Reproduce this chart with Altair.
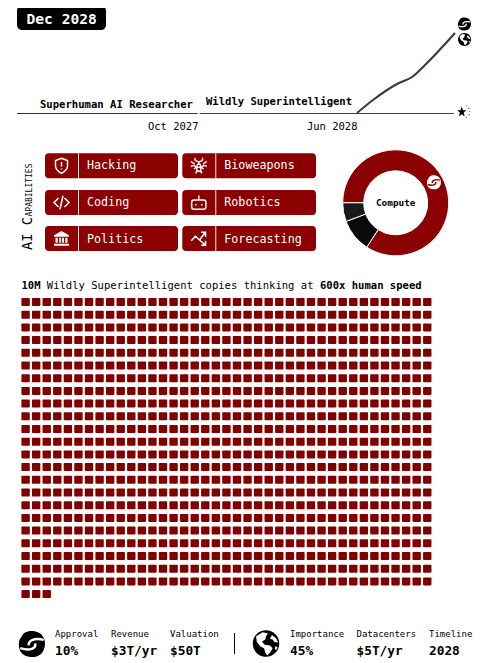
import math
import altair as alt
import pandas as pd

FONT = "DejaVu Sans Mono"
RED = "#8b0000"
WAFFLE_RED = "#800000"

# ---- data ----
date_label = "Dec 2028"
line_x = [357, 373, 397, 412, 427, 455]
line_y = [113, 100, 84, 77, 63, 33]
capabilities = ["Hacking", "Coding", "Politics", "Bioweapons", "Robotics", "Forecasting"]
compute_shares = [84.2, 10.1, 5.7]
compute_colors = [RED, "#0a0a0a", "#1a1a1a"]
copies_squares = 900
waffle_cols = 39
left_stats = [("Approval", "10%", 55), ("Revenue", "$3T/yr", 111), ("Valuation", "$50T", 170)]
right_stats = [("Importance", "45%", 290), ("Datacenters", "$5T/yr", 356.5), ("Timeline", "2028", 429)]

# ---- icon outlines, in a -1..1 box ----
SHIELD = "M0,-1 L0.8,-0.7 L0.8,0 C0.8,0.5 0.4,0.8 0,1 C-0.4,0.8 -0.8,0.5 -0.8,0 L-0.8,-0.7 Z M0,-0.5 L0,0.1 M0,0.36 L0,0.5"
CODE = "M-0.4,-0.6 L-1,0 L-0.4,0.6 M0.4,-0.6 L1,0 L0.4,0.6 M0.2,-0.9 L-0.2,0.9"
BANK = ("M0,-1 L1,-0.45 L1,-0.25 L-1,-0.25 L-1,-0.45 Z M-0.8,-0.1 L-0.5,-0.1 L-0.5,0.55 L-0.8,0.55 Z "
        "M-0.3,-0.1 L-0.05,-0.1 L-0.05,0.55 L-0.3,0.55 Z M0.08,-0.1 L0.33,-0.1 L0.33,0.55 L0.08,0.55 Z "
        "M0.5,-0.1 L0.8,-0.1 L0.8,0.55 L0.5,0.55 Z M-1,0.7 L1,0.7 L1,0.95 L-1,0.95 Z")
BIO = ("M-0.45,-1 C-0.7,-0.35 0.7,-0.35 0.45,-1 M-1,0.1 C-0.45,-0.3 0.0,0.4 -0.4,0.95 "
       "M1,0.1 C0.45,-0.3 0.0,0.4 0.4,0.95 M0,-0.45 L0,-0.1 M-0.2,0.1 L-0.6,0.4 M0.2,0.1 L0.6,0.4 "
       "M-1,-0.55 L-0.5,-0.2 M1,-0.55 L0.5,-0.2 M-0.3,0.8 C-0.1,0.6 0.1,0.6 0.3,0.8 "
       "M-0.22,0 A0.22,0.22 0 1,0 0.22,0 A0.22,0.22 0 1,0 -0.22,0")
ROBOT = ("M-0.65,-0.35 L0.65,-0.35 Q0.95,-0.35 0.95,-0.05 L0.95,0.6 Q0.95,0.9 0.65,0.9 L-0.65,0.9 "
         "Q-0.95,0.9 -0.95,0.6 L-0.95,-0.05 Q-0.95,-0.35 -0.65,-0.35 Z M0,-0.4 L0,-0.95 "
         "M-0.4,0.2 L-0.4,0.4 M0.4,0.2 L0.4,0.4")
ARROWS = ("M-1,0.3 L-0.45,-0.3 L0.1,0.2 L0.85,-0.8 M0.3,-0.85 L0.9,-0.85 L0.9,-0.25 "
          "M0.1,0.2 L0.85,0.85 M0.3,0.9 L0.9,0.9 L0.9,0.3")
DISC = "M-1,0 A1,1 0 1,1 1,0 A1,1 0 1,1 -1,0 Z"
BLOB = ("M-0.15,-1 C0.25,-1.05 0.75,-0.85 0.85,-0.55 C1.05,-0.3 1.05,0.25 0.85,0.55 C0.7,0.85 0.3,1.05 -0.1,1 "
        "C-0.5,1 -0.85,0.75 -0.95,0.45 C-1.05,0.1 -1.05,-0.3 -0.8,-0.55 C-0.7,-0.85 -0.45,-0.95 -0.15,-1 Z")
SWIRL = "M-0.25,0.1 C-0.3,-0.3 0.2,-0.48 0.9,-0.32 M0.25,-0.05 C0.32,0.35 -0.15,0.55 -0.9,0.32"
LAND = ("M-0.75,-0.55 L-0.25,-0.85 L0.15,-0.75 L0.0,-0.55 L-0.05,-0.3 L-0.3,-0.15 L-0.1,0.1 L0.3,0.15 L0.5,0.35 "
        "L0.3,0.7 L0.1,0.9 L-0.05,0.7 L-0.15,0.35 L-0.45,0.2 L-0.7,-0.15 Z "
        "M0.45,-0.65 L0.75,-0.4 L0.92,-0.1 L0.65,-0.1 L0.5,-0.3 L0.3,-0.35 Z M0.75,0.2 L0.88,0.3 L0.75,0.5 L0.65,0.35 Z")
STAR = ("M-0.3,-0.95 L-0.08,-0.3 L0.5,-0.3 L0.03,0.1 L0.22,0.8 L-0.3,0.38 L-0.82,0.8 L-0.63,0.1 L-1.1,-0.3 L-0.52,-0.3 Z")
DOTS = ("M0.4,-1.15 h0.16 v0.16 h-0.16 Z M0.85,-0.7 h0.16 v0.16 h-0.16 Z M1.0,-0.15 h0.16 v0.16 h-0.16 Z "
        "M0.9,0.4 h0.16 v0.16 h-0.16 Z M0.45,0.9 h0.16 v0.16 h-0.16 Z")

# ---- shared page frame: both scales read in page pixels ----
X = alt.Scale(domain=[8, 473], range=[0, 465], nice=False, zero=False)
Y = alt.Scale(domain=[8, 663], range=[0, 655], nice=False, zero=False)


def xq(f="x"):
    return alt.X(f, type="quantitative", scale=X, axis=None)


def yq(f="y"):
    return alt.Y(f, type="quantitative", scale=Y, axis=None)


def texts(rows, size, weight="normal", align="left", color="#000", angle=0):
    df = pd.DataFrame(rows, columns=["x", "y", "t"])
    return alt.Chart(df).mark_text(font=FONT, fontSize=size, fontWeight=weight, align=align,
                                   baseline="alphabetic", color=color, angle=angle).encode(
        x=xq(), y=yq(), text="t:N")


def rects(rows, color, radius=0, **kw):
    df = pd.DataFrame(rows, columns=["x", "x2", "y", "y2"])
    return alt.Chart(df).mark_rect(color=color, cornerRadius=radius, **kw).encode(
        x=xq(), x2="x2", y=yq(), y2="y2")


def rule(xa, ya, xb, yb, color, width):
    df = pd.DataFrame({"x": [xa], "x2": [xb], "y": [ya], "y2": [yb]})
    return alt.Chart(df).mark_rule(color=color, strokeWidth=width).encode(
        x=xq(), x2="x2", y=yq(), y2="y2")


def icon(x, y, d, path, color, stroke=None):
    df = pd.DataFrame({"x": [x], "y": [y]})
    if stroke:
        m = alt.Chart(df).mark_point(shape=path, size=d * d, filled=False, color=color,
                                     strokeWidth=stroke, opacity=1)
    else:
        m = alt.Chart(df).mark_point(shape=path, size=d * d, filled=True, color=color, opacity=1, strokeWidth=0)
    return m.encode(x=xq(), y=yq())


layers = []

# date badge
layers.append(rects([(17, 106, 5.5, 30)], "#000", 5))
layers.append(texts([(26.5, 23.5, date_label)], 14.6, "bold", color="#fff"))

# timeline
layers.append(rule(17, 113.5, 197.5, 113.5, "#333", 1))
layers.append(rule(199.5, 113.5, 454, 113.5, "#444", 1))
layers.append(alt.Chart(pd.DataFrame({"x": line_x, "y": line_y})).mark_line(
    color="#4a3036", strokeWidth=2, interpolate="monotone").encode(x=xq(), y=yq()))
layers.append(texts([(193, 108, "Superhuman AI Researcher")], 10.6, "bold", "right"))
layers.append(texts([(206, 105, "Wildly Superintelligent")], 10.55, "bold"))
layers.append(texts([(198.5, 130, "Oct 2027"), (357.5, 130, "Jun 2028")], 10.5, align="right"))
layers.append(icon(464.5, 24, 13, BLOB, "#000"))
layers.append(icon(464.5, 24, 13, SWIRL, "#fff", 1.3))
layers.append(icon(464.5, 39.5, 13, DISC, "#000"))
layers.append(icon(464.5, 39.5, 13, LAND, "#fff"))
layers.append(icon(463.5, 112, 11.5, STAR, "#000"))
layers.append(icon(463.5, 112, 11.5, DOTS, "#000"))

# axis title for capabilities
layers.append(texts([(31.7, 250, "AI C")], 13.7, angle=270))
layers.append(texts([(31.7, 216.5, "APABILITIES")], 8, angle=270))

# capability buttons
lefts, tops = [45, 182.3], [153.3, 190, 226]
text_base = [169.4, 206.3, 243.2]
btn_rows, name_rows, div_rows = [], [], []
for i, name in enumerate(capabilities):
    c, r = i // 3, i % 3
    x0, y0 = lefts[c], tops[r]
    btn_rows.append((x0, x0 + 133 + c * 0.7, y0, y0 + 25))
    name_rows.append((x0 + 42, text_base[r], name))
    div_rows.append((x0 + 33.5, x0 + 33.5, y0, y0 + 25))
layers.append(rects(btn_rows, RED, 3.5))
layers.append(alt.Chart(pd.DataFrame(div_rows, columns=["x", "x2", "y", "y2"])).mark_rule(
    color="#f5e6e6", strokeWidth=1).encode(x=xq(), y=yq(), y2="y2"))
layers.append(texts(name_rows, 11.7, color="#fff"))
ic = [(SHIELD, 1.5, 15), (CODE, 1.5, 15), (BANK, None, 15), (BIO, 1.4, 16), (ROBOT, 1.5, 15), (ARROWS, 1.5, 15)]
for i, (p, s, d) in enumerate(ic):
    c, r = i // 3, i % 3
    layers.append(icon(lefts[c] + 16.5, tops[r] + 12.5, d, p, "#fff", s))

# compute donut
cum, arcs = -math.pi / 2, []
for share, col in zip(compute_shares, compute_colors):
    a = share / sum(compute_shares) * 2 * math.pi
    arcs.append({"x": 395.7, "y": 202.8, "a": cum, "b": cum + a, "c": col})
    cum += a
layers.append(alt.Chart(pd.DataFrame(arcs)).mark_arc(
    outerRadius=53, innerRadius=32, stroke="#fff", strokeWidth=1).encode(
    x=xq(), y=yq(),
    theta=alt.Theta("a:Q", scale=None), theta2="b",
    color=alt.Color("c:N", scale=None)))
layers.append(texts([(395.7, 205.5, "Compute")], 9.4, "bold", align="center"))
layers.append(icon(434, 182.3, 14, BLOB, "#fff"))
layers.append(icon(434, 182.3, 14, SWIRL, RED, 1.4))

# copies headline
layers.append(texts([(21.5, 288.5, "10M"), (320, 288.5, "600x human speed")], 10.55, "bold"))
layers.append(texts([(46.8, 288.5, "Wildly Superintelligent copies thinking at")], 10.55))

# waffle of copies
sq = []
for i in range(copies_squares):
    col, row = i % waffle_cols, i // waffle_cols
    px, py = 21.4 + col * 10.57, 298 + row * 12.7
    sq.append((px, px + 8.4, py, py + 8))
layers.append(rects(sq, WAFFLE_RED, 0.8))

# footer
layers.append(icon(32, 644, 26, BLOB, "#000"))
layers.append(icon(32, 644, 26, SWIRL, "#fff", 2.4))
layers.append(icon(266, 643.5, 26.5, DISC, "#000"))
layers.append(icon(266, 643.5, 26.5, LAND, "#fff"))
layers.append(rule(234.5, 633, 234.5, 654, "#000", 1))
stats = left_stats + right_stats
layers.append(texts([(x, 637, k) for k, v, x in stats], 9))
layers.append(texts([(x, 655, v) for k, v, x in stats], 12.8, "bold"))

chart = alt.layer(*layers).properties(
    width=465, height=655, padding=0, background="#fff",
    autosize=alt.AutoSizeParams(type="none"),
).configure_view(stroke=None)

chart.save("out.html", embed_options={"renderer": "svg", "actions": False})
